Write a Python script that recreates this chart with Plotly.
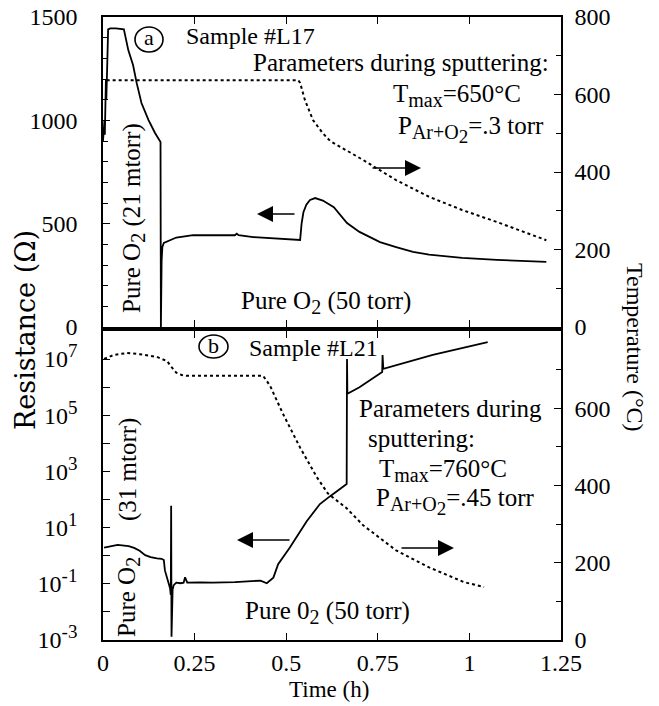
import plotly.graph_objects as go

# ---------------- data ----------------
# Panel (a) Sample #L17 : resistance (Ohm) vs time (h)
t_res_a = [0.000, 0.002, 0.004, 0.005, 0.006, 0.007, 0.008, 0.009, 0.010, 0.012, 0.014, 0.020,
           0.035, 0.057, 0.069, 0.082, 0.092, 0.105, 0.124, 0.142, 0.157, 0.158, 0.160,
           0.162, 0.166, 0.200, 0.246, 0.310, 0.360, 0.365, 0.370, 0.410, 0.490, 0.533,
           0.538, 0.542, 0.547, 0.555, 0.565, 0.579, 0.600, 0.630, 0.666, 0.700, 0.756,
           0.800, 0.846, 0.890, 0.980, 1.075, 1.210]
r_a = [900, 960, 1000, 930, 1150, 1020, 1200, 1100, 1250, 1300, 1440, 1445,
       1445, 1440, 1340, 1268, 1180, 1084, 1002, 939, 895, 0, 320,
       387, 407, 433, 445, 444, 444, 452, 444, 435, 425, 421,
       421, 500, 555, 592, 615, 624, 612, 580, 503, 460, 411,
       387, 363, 350, 334, 325, 315]

# Panel (a) temperature (deg C) vs time (h)
t_tmp_a = [0.010, 0.100, 0.300, 0.533, 0.538, 0.551, 0.573, 0.600, 0.620, 0.710, 0.800,
           0.890, 0.980, 1.075, 1.210]
temp_a = [637, 637, 637, 637, 630, 586, 534, 500, 480, 431, 379,
          336, 302, 271, 224]

# Panel (b) Sample #L21 : resistance (Ohm, log) vs time (h)
t_res_b = [0.003, 0.020, 0.040, 0.070, 0.085, 0.100, 0.115, 0.130, 0.147, 0.160, 0.166,
           0.169, 0.177, 0.183, 0.185, 0.186, 0.187, 0.188, 0.190, 0.193, 0.200, 0.212,
           0.220, 0.224, 0.230, 0.265, 0.300, 0.360, 0.400, 0.430, 0.447, 0.465, 0.478,
           0.510, 0.556, 0.592, 0.620, 0.665, 0.666, 0.667, 0.700, 0.762, 0.763, 0.765,
           0.900, 1.050]
r_b = [1.95, 2.2, 2.45, 2.2, 1.9, 1.5, 1.05, 0.9, 0.8, 0.78, 0.7,
       0.3, 0.13, 0.07, 0.04, 60, 0.0013, 0.03, 0.063, 0.09, 0.11, 0.105,
       0.11, 0.17, 0.11, 0.112, 0.11, 0.115, 0.126, 0.13, 0.105, 0.166, 0.5,
       1.95, 17, 69, 132, 355, 1.0e7, 5.8e5, 1.0e6, 3.5e6, 1.4e7, 4.5e6,
       1.4e7, 4.0e7]

# Panel (b) temperature (deg C) vs time (h)
t_tmp_b = [0.003, 0.030, 0.065, 0.100, 0.147, 0.175, 0.190, 0.200, 0.215, 0.229, 0.437,
           0.456, 0.491, 0.538, 0.584, 0.614, 0.665, 0.710, 0.800, 0.890, 0.985, 1.040]
temp_b = [728, 738, 743, 740, 733, 722, 703, 692, 686, 684, 684,
          658, 586, 498, 421, 379, 341, 297, 232, 188, 150, 137]

# tick labels
x_ticks = [0, 0.25, 0.5, 0.75, 1, 1.25]
log_tick_vals = [1e-3, 1e-2, 1e-1, 1e0, 1e1, 1e2, 1e3, 1e4, 1e5, 1e6, 1e7]
log_exponents = ["-3", "", "-1", "", "1", "", "3", "", "5", "", "7"]
log_tick_text = [("10<sup><span style='font-size:19px'>%s</span></sup>" % e) if e else ""
                 for e in log_exponents]

# ---------------- figure ----------------
FONT = "Liberation Serif"
OFF = 8                      # page body margin of the browser
W, H = 659 - OFF, 706 - OFF
X0, X1, Y0, Y1 = 103, 561, 17, 640   # plot area in screen pixels
ML, MT = X0 - OFF, Y0 - OFF
PW, PH = X1 - X0, Y1 - Y0
MR, MB = W - ML - PW, H - MT - PH


def PX(px):
    return (px - X0) / PW


def PY(py):
    return (Y1 - py) / PH


fig = go.Figure()
line_solid = dict(color="black", width=1.8)
line_dot = dict(color="black", width=2, dash="dot")

fig.add_trace(go.Scatter(x=t_res_a, y=r_a, mode="lines", line=line_solid,
                         xaxis="x2", yaxis="y", showlegend=False))
fig.add_trace(go.Scatter(x=t_tmp_a, y=temp_a, mode="lines", line=line_dot,
                         xaxis="x2", yaxis="y2", showlegend=False))
fig.add_trace(go.Scatter(x=t_res_b, y=r_b, mode="lines", line=line_solid,
                         xaxis="x", yaxis="y3", showlegend=False))
fig.add_trace(go.Scatter(x=t_tmp_b, y=temp_b, mode="lines", line=line_dot,
                         xaxis="x", yaxis="y4", showlegend=False))

tickfont = dict(family=FONT, size=24, color="black")
common = dict(showline=True, linecolor="black", linewidth=1.5, ticks="inside",
              tickcolor="black", ticklen=7, tickwidth=1.3, showgrid=False,
              zeroline=False, tickfont=tickfont, automargin=False,
              ticklabeloverflow="allow")

top_bottom = PY(327)
bot_top = PY(331)
minor = dict(dtick=100, ticks="inside", ticklen=5, tickcolor="black", tickwidth=1.2)

fig.update_layout(
    width=W, height=H,
    margin=dict(l=ML, r=MR, t=MT, b=MB, autoexpand=False),
    paper_bgcolor="white", plot_bgcolor="white",
    xaxis=dict(domain=[0, 1], anchor="y3", range=[0, 1.25], tickvals=x_ticks,
               mirror="ticks", ticklabelstandoff=0, **common),
    xaxis2=dict(domain=[0, 1], anchor="y", range=[0, 1.25], tickvals=x_ticks,
                mirror="ticks", showticklabels=False, matches="x", **common),
    yaxis=dict(domain=[top_bottom, 1], anchor="x2", range=[0, 1500],
               tickvals=[0, 500, 1000, 1500], ticklabelstandoff=19,
               minor=minor, **common),
    yaxis2=dict(overlaying="y", anchor="x2", side="right", range=[0, 800],
                tickvals=[0, 200, 400, 600, 800], ticklabelstandoff=7,
                minor=minor, **common),
    yaxis3=dict(domain=[0, bot_top], anchor="x", type="log", range=[-3, 8],
                tickvals=log_tick_vals, ticktext=log_tick_text, ticklabelstandoff=19,
                **common),
    yaxis4=dict(overlaying="y3", anchor="x", side="right", range=[0, 800],
                tickvals=[0, 200, 400, 600], ticklabelstandoff=7,
                minor=minor, **common),
)

tf = dict(family=FONT, size=25, color="black")
ann = []

SUBMAX = "<sub><span style='font-size:20px'>max</span></sub>"
SUBARO2 = ("<sub><span style='font-size:20px'>Ar+O</span>"
           "<sub><span style='font-size:19px'>2</span></sub></sub>")
SUB2 = "<sub><span style='font-size:20px'>2</span></sub>"


def text(s, px, py, xanchor="center", angle=0, font=tf):
    ann.append(dict(text=s, x=PX(px), y=PY(py), xref="paper", yref="paper",
                    xanchor=xanchor, yanchor="middle", showarrow=False,
                    textangle=angle, font=font))


def arrow(hx, hy, tx, ty):
    ann.append(dict(text="", x=PX(hx), y=PY(hy), xref="paper", yref="paper",
                    ax=tx - hx, ay=ty - hy, showarrow=True, arrowhead=2,
                    arrowsize=2.0, arrowwidth=1.6, arrowcolor="black"))


# panel (a)
text("a", 149, 38, font=dict(family=FONT, size=22, color="black"))
text("Sample #L17", 184, 36, "left", font=dict(family=FONT, size=24, color="black"))
text("Parameters during sputtering:", 551, 62, "right")
text("T" + SUBMAX + "=650°C", 523, 96, "right")
text("P" + SUBARO2 + "=.3 torr", 546, 129, "right")
text("Pure O" + SUB2 + " (21 mtorr)", 133, 218, angle=-90)
text("Pure O" + SUB2 + " (50 torr)", 326, 302)
arrow(257, 214, 296, 214)
arrow(421, 168, 371, 168)

# panel (b)
text("b", 213.5, 345, font=dict(family=FONT, size=22, color="black"))
text("Sample #L21", 247, 348, "left", font=dict(family=FONT, size=24, color="black"))
text("Parameters during", 357, 408, "left")
text("sputtering:", 366, 438, "left")
text("T" + SUBMAX + "=760°C", 377, 470, "left")
text("P" + SUBARO2 + "=.45 torr", 374, 501, "left")
text("(31 mtorr)", 128, 470, angle=-90)
text("Pure O" + SUB2, 128, 597, angle=-90)
text("Pure 0" + SUB2 + " (50 torr)", 327, 612)
arrow(237, 540, 291, 540)
arrow(454, 548, 400, 548)

# axis titles
text("Resistance (Ω)", 26, 330, angle=-90,
     font=dict(family="DejaVu Serif", size=27, color="black"))
text("Temperature (°C)", 635, 347, angle=90,
     font=dict(family=FONT, size=24, color="black"))
text("Time (h)", 329, 689, font=dict(family=FONT, size=23, color="black"))

fig.update_layout(annotations=ann)

# circles around panel letters
fig.update_layout(shapes=[
    dict(type="circle", xref="paper", yref="paper", x0=PX(135), x1=PX(163),
         y0=PY(52), y1=PY(27), line=dict(color="black", width=1.6)),
    dict(type="circle", xref="paper", yref="paper", x0=PX(199), x1=PX(228),
         y0=PY(358), y1=PY(335), line=dict(color="black", width=1.6)),
])

fig.write_html("out.html")
